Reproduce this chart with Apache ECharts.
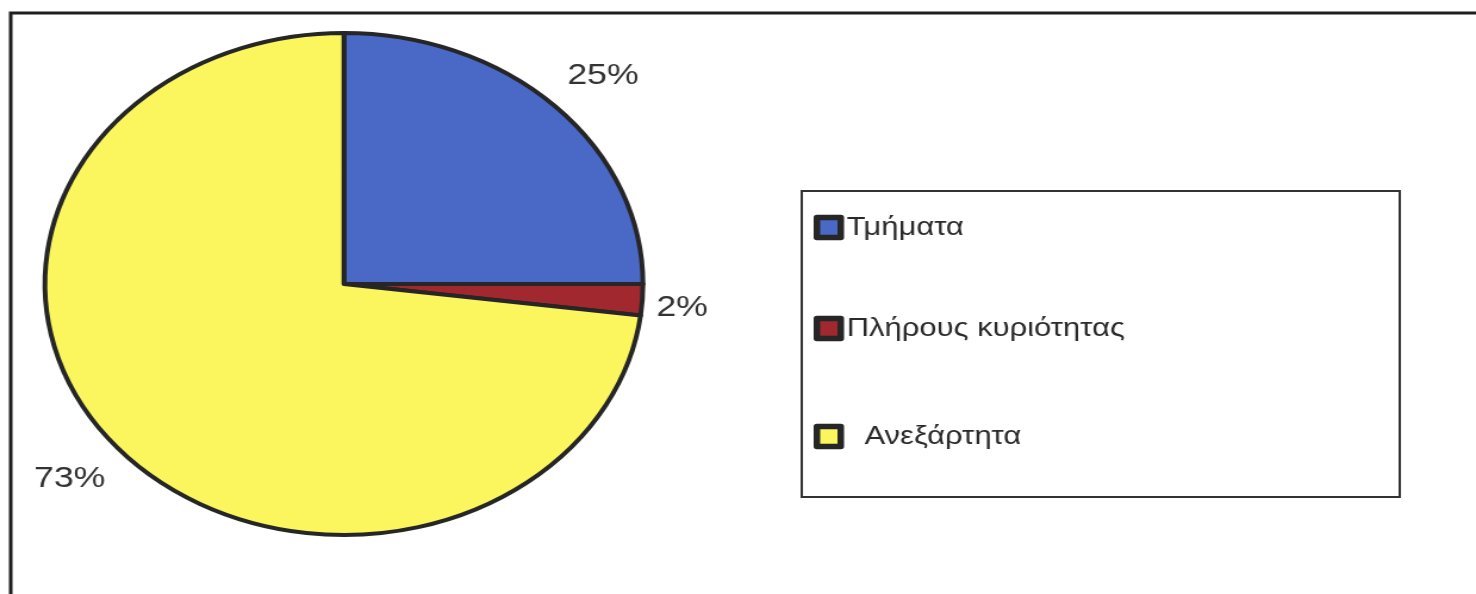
<!DOCTYPE html>
<html>
<head>
<meta charset="utf-8">
<script src="https://cdn.jsdelivr.net/npm/echarts@6/dist/echarts.min.js"></script>
<style>
  html, body { margin: 0; padding: 0; background: #fff; overflow: hidden; }
  #wrap { width: 1476px; height: 594px; overflow: hidden; }
  /* the chart is laid out on a narrower canvas and stretched horizontally */
  #chart { width: 1239px; height: 594px; transform: scaleX(1.19128); transform-origin: 0 0; }
</style>
</head>
<body>
<div id="wrap"><div id="chart"></div></div>
<script>
const categories = ['Τμήματα', 'Πλήρους κυριότητας', 'Ανεξάρτητα'];
const shares = [25, 2, 73];
const sliceColors = ['#4a69c6', '#a0282e', '#fbf65e'];

const FONT = '"Liberation Sans", Arial, sans-serif';
const CX = 288.7, CY = 284, R = 251;
const total = shares.reduce((a, b) => a + b, 0);

// place each percentage just outside the rim, near the slice's mid angle
function placeLabel(p) {
  const i = p.dataIndex;
  let before = 0;
  for (let j = 0; j < i; j++) before += shares[j];
  const mid = (90 - 360 * (before + shares[i] / 2) / total - 1.2) * Math.PI / 180;
  const ux = Math.cos(mid), uy = -Math.sin(mid);
  const w = p.labelRect.width, h = p.labelRect.height;
  const d = R + 10 + Math.abs(ux) * w / 2 + 0.9 * Math.abs(uy) * h;
  return { x: CX + ux * d, y: CY + uy * d, align: 'center', verticalAlign: 'middle' };
}

const legendTops = [212, 313, 421];
const legends = categories.map((name, i) => ({
  data: [name],
  orient: 'vertical',
  left: 683,
  top: legendTops[i] + 2.5,
  padding: 0,
  itemWidth: 20,
  itemHeight: 20,
  icon: 'rect',
  selectedMode: false,
  itemStyle: { borderColor: '#262626', borderWidth: 5.5 },
  textStyle: {
    fontFamily: FONT, fontSize: 26, color: '#2a2a2a',
    padding: i === 2 ? [0, 0, 0, 15] : 0
  }
}));

const chart = echarts.init(document.getElementById('chart'), null, { renderer: 'canvas' });
chart.setOption({
  animation: false,
  backgroundColor: '#fff',
  color: sliceColors,
  legend: legends,
  graphic: [
    { type: 'rect', z: -1, shape: { x: 9, y: 13, width: 1400, height: 800 },
      style: { fill: 'none', stroke: '#1e1e1e', lineWidth: 3 } },
    { type: 'rect', z: -1, shape: { x: 673, y: 191, width: 502, height: 306 },
      style: { fill: 'none', stroke: '#333', lineWidth: 2 } }
  ],
  series: [{
    type: 'pie',
    center: [CX, CY],
    radius: R,
    startAngle: 90,
    clockwise: true,
    avoidLabelOverlap: false,
    emphasis: { disabled: true },
    itemStyle: { borderColor: '#262626', borderWidth: 4 },
    label: {
      show: true, position: 'outside', formatter: '{c}%',
      fontFamily: FONT, fontSize: 30, color: '#333'
    },
    labelLine: { show: false },
    labelLayout: placeLabel,
    data: categories.map((name, i) => ({ name, value: shares[i] }))
  }]
});
</script>
</body>
</html>
